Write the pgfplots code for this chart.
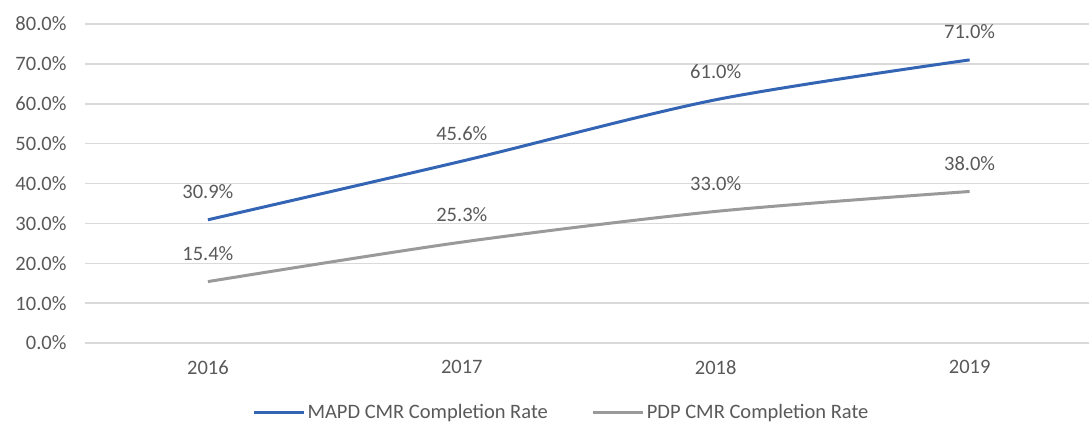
\documentclass[border=0pt]{standalone}
\usepackage{pgfplots}
\pgfplotsset{compat=1.18}
\usepackage{fontspec}
\setmainfont{Carlito}
\definecolor{txt}{HTML}{595959}
\definecolor{grd}{HTML}{D9D9D9}
\definecolor{blu}{HTML}{3464B4}
\definecolor{gry}{HTML}{9A9A9A}
\newcommand\f{\fontsize{20.5bp}{24bp}\selectfont}
\begin{document}
\begin{tikzpicture}
\useasboundingbox (-85bp,-84bp) rectangle (1004bp,343bp);
\begin{axis}[
  scale only axis,
  width=1004bp, height=319bp,
  xmin=-0.484, xmax=3.47,
  ymin=0, ymax=80,
  xtick={0,1,2,3},
  xticklabels={2016,2017,2018,2019},
  ytick={0,10,...,80},
  /pgf/number format/assume math mode=true,
  yticklabel={\pgfmathprintnumber[fixed,fixed zerofill,precision=1]{\tick}\%},
  major tick length=0pt,
  axis line style={draw=none},
  ymajorgrids,
  grid style={grd, line width=1.5bp},
  tick label style={font=\f, text=txt},
  xticklabel style={yshift=-14bp},
  yticklabel style={xshift=-15bp},
  clip=false,
  nodes near coords={\pgfmathprintnumber[fixed,fixed zerofill,precision=1]{\pgfplotspointmeta}\%},
  every node near coord/.append style={font=\f, text=txt, anchor=center, yshift=28bp},
  legend style={at={(0.4746,-0.218)}, anchor=center, draw=none, fill=none,
    font=\f, text=txt, legend columns=2,
    /tikz/every even column/.append style={column sep=42bp},
    /tikz/every odd column/.append style={column sep=0bp},
    inner sep=0pt},
  legend cell align=left,
  legend image code/.code={\draw[#1, line width=3bp] (0bp,0bp) -- (50bp,0bp);},
]
\addplot[blu, line width=3bp, smooth, mark=none] coordinates {(0,30.9) (1,45.6) (2,61.0) (3,71.0)};
\addlegendentry{MAPD CMR Completion Rate}
\addplot[gry, line width=3bp, smooth, mark=none] coordinates {(0,15.4) (1,25.3) (2,33.0) (3,38.0)};
\addlegendentry{PDP CMR Completion Rate}
\end{axis}
\end{tikzpicture}
\end{document}
